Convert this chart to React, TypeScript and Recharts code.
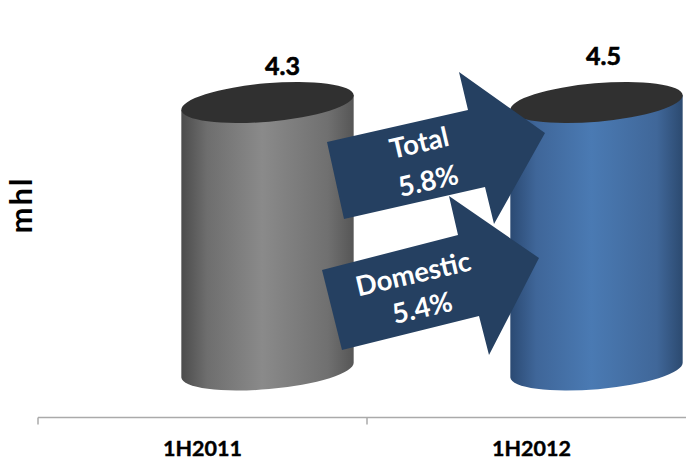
import React from 'react';
import { BarChart, Bar, XAxis, YAxis, LabelList } from 'recharts';

const categories = ['1H2011', '1H2012'];
const volumes = [4.3, 4.5];
const yDomain = [-2, 6.3];
const yAxisTitle = 'mhl';
const arrowTexts = [
  { lines: ['Total', '5.8%'] },
  { lines: ['Domestic', '5.4%'] },
];

const chartData = categories.map((period, i) => ({ period, volume: volumes[i] }));

// layout
const WIDTH = 696;
const HEIGHT = 461;
const PLOT_TOP = 2.5;
const PLOT_BOTTOM = 417.5;
const PLOT_LEFT = 38;
const BAND = (WIDTH - PLOT_LEFT) / categories.length;
const UNIT_PX = (PLOT_BOTTOM - PLOT_TOP) / (yDomain[1] - yDomain[0]);
const CYL_WIDTH = 173;
const CYL_SHIFT = 65; // cylinders sit right of their category centre in the original
const CYL_BASE_LIFT = 47.5;
const CAP_VALUE = 4.3; // both cylinders are drawn to the same height, only the labels differ
const LABEL_DX = [15, 7];
const FONT = 'Lato, "Open Sans", sans-serif';

const arrowPoints = [
  '327,142 468,110 459,72 545,133 494,224 485,187 344,219',
  '322,270 458,235 449,196 539,258 489,355 479,316 342,350',
];
const arrowTextPos = [
  [[419, 142], [428, 180]],
  [[413, 273], [422, 307]],
];

function Cylinder(props: any) {
  const { x, y, width, value, index } = props;
  const cx = x + width / 2 + CYL_SHIFT;
  const topY = y + (value - CAP_VALUE) * UNIT_PX;
  const baseY = PLOT_BOTTOM - CYL_BASE_LIFT;
  const a = CYL_WIDTH / 2;
  const b = 19.2;
  const rot = -5;
  const dx = a * Math.cos((5 * Math.PI) / 180);
  const dy = a * Math.sin((5 * Math.PI) / 180);
  const body = `M${cx - dx},${topY + dy} L${cx - dx},${baseY + dy} A${a},${b} ${rot} 0 0 ${cx + dx},${baseY - dy} L${cx + dx},${topY - dy} Z`;
  return (
    <g>
      <path d={body} fill={`url(#cyl${index})`} />
      <ellipse cx={cx} cy={topY} rx={a} ry={b} fill="#303030" transform={`rotate(${rot} ${cx} ${topY})`} />
    </g>
  );
}

function ValueLabel(props: any) {
  const { x, y, width, value, index } = props;
  return (
    <text
      x={x + width / 2 + CYL_SHIFT + LABEL_DX[index]}
      y={y - 27.5}
      textAnchor="middle"
      fontFamily={FONT}
      fontWeight={700}
      fontSize={25}
      fill="#000"
      stroke="#000"
      strokeWidth={0.6}
    >
      {value}
    </text>
  );
}

function CategoryTick(props: any) {
  const { x, payload } = props;
  return (
    <g>
      <line x1={x - BAND / 2} x2={x - BAND / 2} y1={PLOT_BOTTOM} y2={PLOT_BOTTOM + 7} stroke="#aaa" strokeWidth={1.5} />
      <text
        x={x}
        y={PLOT_BOTTOM + 38.5}
        textAnchor="middle"
        fontFamily={FONT}
        fontWeight={700}
        fontSize={21.5}
        fill="#000"
        stroke="#000"
        strokeWidth={0.4}
      >
        {payload.value}
      </text>
    </g>
  );
}

function Gradient({ id, stops }: { id: string; stops: string[] }) {
  return (
    <linearGradient id={id} x1="0" x2="1" y1="0" y2="0">
      <stop offset="0" stopColor={stops[0]} />
      <stop offset="0.15" stopColor={stops[1]} />
      <stop offset="0.47" stopColor={stops[2]} />
      <stop offset="0.85" stopColor={stops[3]} />
      <stop offset="1" stopColor={stops[4]} />
    </linearGradient>
  );
}

export default function App() {
  return (
    <div style={{ position: 'absolute', left: 0, top: 0, width: 686, height: 461, overflow: 'hidden', background: '#fff' }}>
      <BarChart
        width={WIDTH}
        height={HEIGHT}
        data={chartData}
        barSize={CYL_WIDTH}
        margin={{ top: PLOT_TOP, right: 0, bottom: 0, left: 0 }}
      >
        <defs>
          <Gradient id="cyl0" stops={['#4c4c4c', '#6e6e6e', '#8a8a8a', '#707070', '#565656']} />
          <Gradient id="cyl1" stops={['#2b4a73', '#3f6699', '#4a7ab3', '#406799', '#2c4a70']} />
        </defs>
        <XAxis
          dataKey="period"
          height={HEIGHT - PLOT_BOTTOM}
          axisLine={{ stroke: '#aaa', strokeWidth: 1.5 }}
          tickLine={false}
          tick={<CategoryTick />}
          interval={0}
        />
        <YAxis
          width={PLOT_LEFT}
          domain={yDomain}
          tick={false}
          axisLine={false}
          tickLine={false}
          label={{
            value: yAxisTitle,
            angle: -90,
            position: 'center',
            dx: 2,
            dy: -5,
            style: { fontFamily: FONT, fontWeight: 700, fontSize: 31, letterSpacing: 2, fill: '#000' },
          }}
        />
        <Bar dataKey="volume" shape={<Cylinder />} isAnimationActive={false}>
          <LabelList dataKey="volume" content={<ValueLabel />} />
        </Bar>
      </BarChart>
      <svg width={686} height={461} style={{ position: 'absolute', left: 0, top: 0 }}>
        {arrowPoints.map((pts, i) => (
          <g key={i}>
            <polygon points={pts} fill="#254061" />
            {arrowTexts[i].lines.map((line, j) => (
              <text
                key={line}
                x={arrowTextPos[i][j][0]}
                y={arrowTextPos[i][j][1]}
                textAnchor="middle"
                dominantBaseline="central"
                transform={`rotate(-13 ${arrowTextPos[i][j][0]} ${arrowTextPos[i][j][1]})`}
                fontFamily={FONT}
                fontWeight={700}
                fontSize={27.5}
                fill="#fff"
              >
                {line}
              </text>
            ))}
          </g>
        ))}
      </svg>
    </div>
  );
}
